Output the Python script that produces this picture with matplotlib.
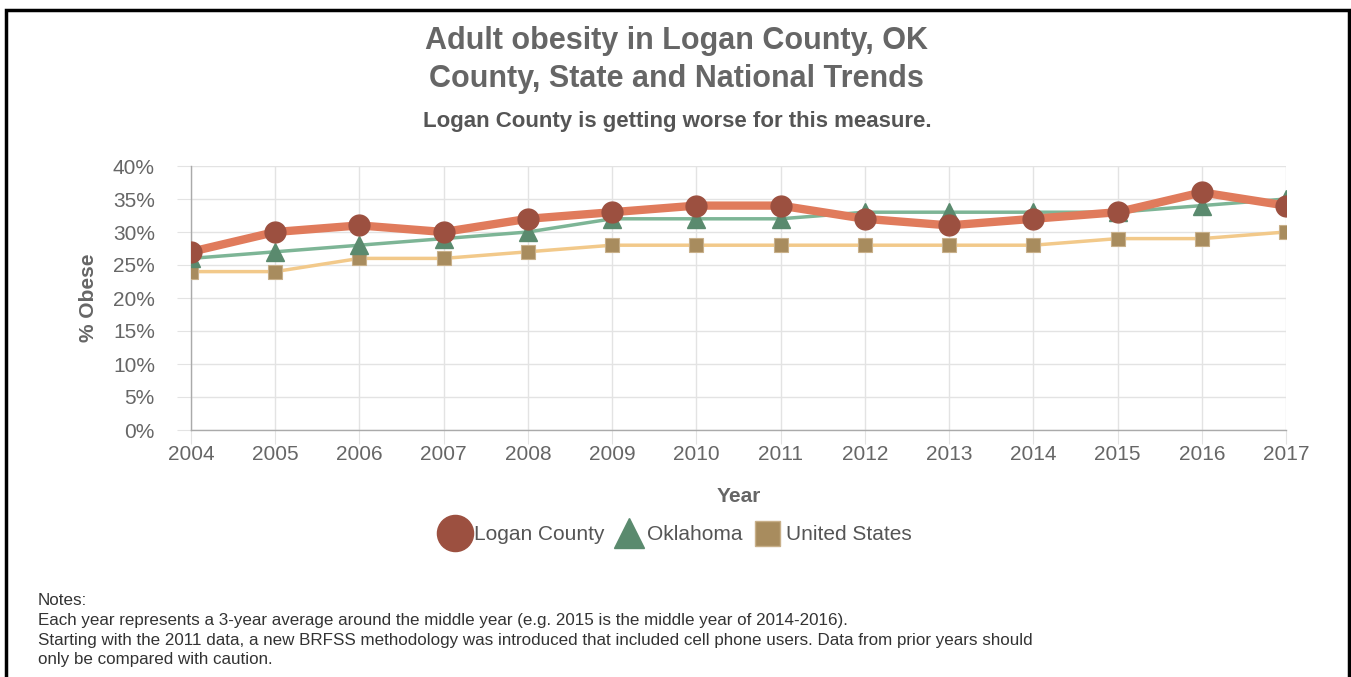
import numpy as np
import matplotlib
matplotlib.use("Agg")
from matplotlib import pyplot as plt
from matplotlib.lines import Line2D
from matplotlib.patches import Rectangle
from matplotlib.ticker import FuncFormatter

years = [2004, 2005, 2006, 2007, 2008, 2009, 2010, 2011, 2012, 2013, 2014, 2015, 2016, 2017]
logan = [27, 30, 31, 30, 32, 33, 34, 34, 32, 31, 32, 33, 36, 34]
oklahoma = [26, 27, 28, 29, 30, 32, 32, 32, 33, 33, 33, 33, 34, 35]
united_states = [24, 24, 26, 26, 27, 28, 28, 28, 28, 28, 28, 29, 29, 30]

title = "Adult obesity in Logan County, OK\nCounty, State and National Trends"
subtitle = "Logan County is getting worse for this measure."
notes = ("Notes:\n"
         "Each year represents a 3-year average around the middle year (e.g. 2015 is the middle year of 2014-2016).\n"
         "Starting with the 2011 data, a new BRFSS methodology was introduced that included cell phone users. Data from prior years should\n"
         "only be compared with caution.")

plt.rcParams['font.family'] = ['Liberation Sans', 'DejaVu Sans']

fig = plt.figure(figsize=(13.51, 6.77), dpi=100)
ax = fig.add_axes([191/1351, 1-430/677, (1286-191)/1351, (430-166)/677])

grey_text = "#666666"
grid_col = "#e3e3e3"

ax.plot(years, united_states, color="#f2c98a", lw=2.5, marker="s", ms=10,
        mfc="#a88c5e", mec="#c8b08a", mew=0.8, zorder=3)
ax.plot(years, oklahoma, color="#7db596", lw=2.5, marker="^", ms=13,
        mfc="#5a8a6e", mec="#5a8a6e", zorder=4)
ax.plot(years, logan, color="#e07b5c", lw=6, marker="o", ms=15,
        mfc="#9c5040", mec="#9c5040", zorder=5)

ax.set_xlim(years[0], years[-1])
ax.set_ylim(0, 40)
ax.set_xticks(years)
ax.set_yticks(range(0, 41, 5))
ax.yaxis.set_major_formatter(FuncFormatter(lambda v, p: "%d%%" % v))
ax.grid(True, color=grid_col, lw=1)
ax.set_axisbelow(True)
for s in ["top", "right"]:
    ax.spines[s].set_visible(False)
for s in ["left", "bottom"]:
    ax.spines[s].set_color("#aaaaaa")
    ax.spines[s].set_linewidth(1)
ax.tick_params(axis="both", length=10, color=grid_col, labelsize=15, labelcolor=grey_text)
ax.tick_params(axis="x", pad=1)
ax.tick_params(axis="y", pad=16)
ax.set_xlabel("Year", fontsize=15, fontweight="bold", color=grey_text, labelpad=16)
ax.set_ylabel("% Obese", fontsize=15, fontweight="bold", color=grey_text, labelpad=11)

fig.text(0.501, 1-60/677, title, ha="center", va="center", fontsize=22, fontweight="bold",
         color="#666666", linespacing=1.35)
fig.text(0.501, 1-122/677, subtitle, ha="center", va="center", fontsize=16,
         fontweight="bold", color="#555555")

handles = [
    Line2D([], [], ls="none", marker="o", ms=26, mfc="#9c5040", mec="#9c5040"),
    Line2D([], [], ls="none", marker="^", ms=22, mfc="#5a8a6e", mec="#5a8a6e"),
    Line2D([], [], ls="none", marker="s", ms=18, mfc="#a88c5e", mec="#c8b08a"),
]
leg = fig.legend(handles, ["Logan County", "Oklahoma", "United States"], loc="center",
                 bbox_to_anchor=(0.5, 1-535/677), ncol=3, frameon=False, fontsize=15,
                 handlelength=1.5, handletextpad=0.15, columnspacing=0.4,
                 labelcolor="#555555")

fig.text(38/1351, 1-593/677, notes, ha="left", va="top", fontsize=12.25,
         color="#333333", linespacing=1.4)

fig.add_artist(Rectangle((6/1351, -0.05), (1349-6)/1351, 1.05-10/677, transform=fig.transFigure,
                         fill=False, ec="black", lw=2.5))

fig.savefig("out.png", dpi=100)
